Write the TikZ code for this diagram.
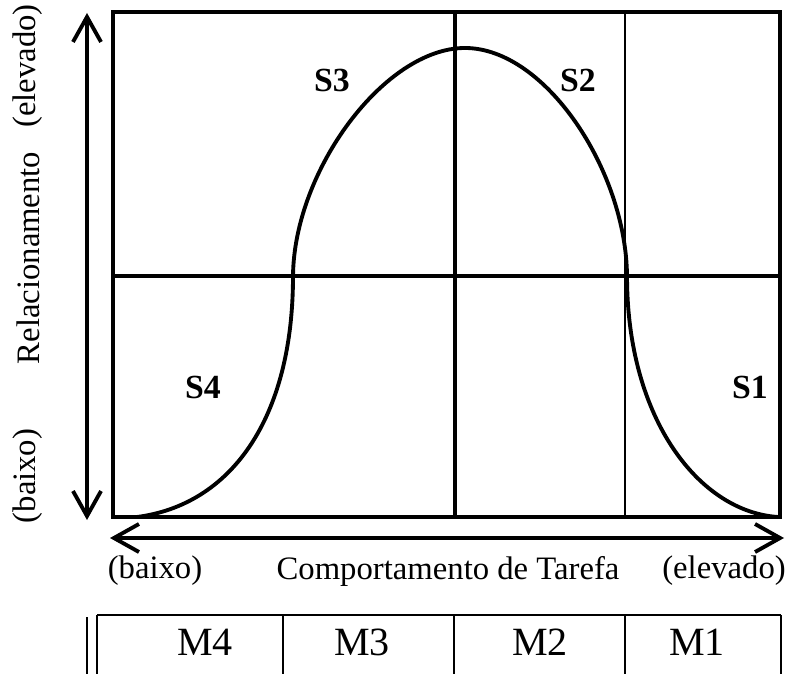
\documentclass[tikz,border=0pt]{standalone}
\usepackage{fontspec}
\setmainfont{Liberation Serif}
\usetikzlibrary{arrows.meta}

\begin{document}
\begin{tikzpicture}[x=0.01cm, y=-0.01cm,
  lbl/.style={inner sep=0pt, font=\fontsize{9.3}{11}\selectfont},
  sit/.style={inner sep=0pt, font=\fontsize{9.6}{11}\selectfont\bfseries},
  mlbl/.style={inner sep=0pt, font=\fontsize{11.4}{13}\selectfont},
  axis/.style={line width=1.1pt, {Straight Barb[length=0.25cm,width=0.28cm]}-{Straight Barb[length=0.25cm,width=0.28cm]}}]
\useasboundingbox (0,0) rectangle (786,674);

\coordinate (tl) at (113,12);
\coordinate (br) at (780,517);
\coordinate (mt) at (455,12);
\coordinate (mb) at (455,517);
\coordinate (rt) at (625,12);
\coordinate (rb) at (625,517);
\coordinate (ml) at (113,276);
\coordinate (mr) at (780,276);

\coordinate (vtop) at (87,13);
\coordinate (vbot) at (87,520);
\coordinate (hleft) at (110,538);
\coordinate (hright) at (784,538);

\draw[line width=1.1pt] (tl) rectangle (br);
\draw[line width=1pt] (mt)--(mb);
\draw[line width=0.5pt] (rt)--(rb);
\draw[line width=0.9pt] (ml)--(mr);

\draw[axis] (vbot)--(vtop);
\draw[axis] (hleft)--(hright);

\draw[line width=1.1pt] (137,517) .. controls (230,505) and (293,420) .. (293,276)
  .. controls (294,170) and (385,48) .. (465,48)
  .. controls (545,48) and (626,170) .. (627,276)
  .. controls (627,420) and (700,512) .. (778,517);

\node[sit] (s3) at (332,80) {S3};
\node[sit] (s2) at (578,80) {S2};
\node[sit] (s4) at (203,387) {S4};
\node[sit] (s1) at (750,387) {S1};

\node[lbl, rotate=90] (ryhigh) at (28,66) {(elevado)};
\node[lbl, rotate=90] (rytitle) at (28,258) {Relacionamento};
\node[lbl, rotate=90] (rylow) at (28,476) {(baixo)};

\node[lbl] (txlow) at (155,571) {(baixo)};
\node[lbl] (txtitle) at (448,571) {Comportamento de Tarefa};
\node[lbl] (txhigh) at (724,571) {(elevado)};

\coordinate (ta) at (97,615);
\coordinate (tb) at (283,615);
\coordinate (tc) at (454,615);
\coordinate (td) at (625,615);
\coordinate (te) at (781,615);
\coordinate (ta') at (97,674);
\coordinate (tb') at (283,674);
\coordinate (tc') at (454,674);
\coordinate (td') at (625,674);
\coordinate (te') at (781,674);
\coordinate (tz) at (87,617);
\coordinate (tz') at (87,674);

\draw[line width=0.5pt] (ta)--(te);
\draw[line width=0.5pt] (ta)--(ta');
\draw[line width=0.5pt] (tz)--(tz');
\draw[line width=0.5pt] (tb)--(tb');
\draw[line width=0.5pt] (tc)--(tc');
\draw[line width=0.5pt] (td)--(td');
\draw[line width=0.5pt] (te)--(te');

\node[mlbl] (m4) at (205,642) {M4};
\node[mlbl] (m3) at (362,642) {M3};
\node[mlbl] (m2) at (540,642) {M2};
\node[mlbl] (m1) at (697,642) {M1};
\end{tikzpicture}
\end{document}
